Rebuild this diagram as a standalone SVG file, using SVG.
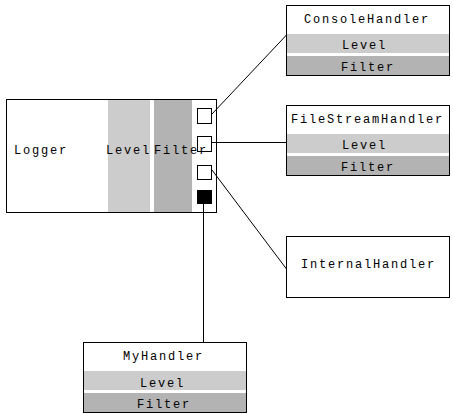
<svg xmlns="http://www.w3.org/2000/svg" width="453" height="414" viewBox="0 0 453 414">
<style>
.box{fill:none;stroke:#000;stroke-width:1}
.bg{fill:#fff}
.lv{fill:#cccccc}
.ft{fill:#b3b3b3}
.sq{fill:#fff;stroke:#000;stroke-width:1}
.t{font-family:"Liberation Mono","Courier New",monospace;font-size:12px;letter-spacing:1.8px;fill:#000}
.c{stroke:#000;stroke-width:1;fill:none}
</style>
<rect width="453" height="414" fill="#fff"/>
<g id="logger">
<rect class="bg" x="6.5" y="99.5" width="210" height="113"/>
<rect class="lv" x="108" y="100" width="42" height="112"/>
<rect class="ft" x="154" y="100" width="38" height="112"/>
<rect class="box" x="6.5" y="99.5" width="210" height="113"/>
<rect class="sq" x="197.5" y="108.5" width="14" height="15"/>
<rect class="sq" x="197.5" y="136.5" width="14" height="15"/>
<rect class="sq" x="197.5" y="165.5" width="14" height="14"/>
<rect x="197" y="190" width="15" height="14" fill="#000"/>
<text class="t" x="14" y="154">Logger</text>
<text class="t" x="106" y="154">Level</text>
<text class="t" x="154" y="154">Filter</text>
</g>
<g id="consoleHandler">
<rect class="bg" x="286.5" y="5.5" width="163" height="70"/>
<rect class="lv" x="287" y="34" width="162" height="19"/>
<rect class="ft" x="287" y="56" width="162" height="19"/>
<rect class="box" x="286.5" y="5.5" width="163" height="70"/>
<text class="t" x="304" y="23">ConsoleHandler</text>
<text class="t" x="342" y="49">Level</text>
<text class="t" x="341" y="71">Filter</text>
</g>
<g id="fileStreamHandler">
<rect class="bg" x="286.5" y="105.5" width="163" height="70"/>
<rect class="lv" x="287" y="134" width="162" height="19"/>
<rect class="ft" x="287" y="156" width="162" height="19"/>
<rect class="box" x="286.5" y="105.5" width="163" height="70"/>
<text class="t" x="291" y="123">FileStreamHandler</text>
<text class="t" x="342" y="149">Level</text>
<text class="t" x="341" y="171">Filter</text>
</g>
<g id="internalHandler">
<rect class="bg" x="286.5" y="236.5" width="163" height="61"/>
<rect class="box" x="286.5" y="236.5" width="163" height="61"/>
<text class="t" x="301" y="268">InternalHandler</text>
</g>
<g id="myHandler">
<rect class="bg" x="83.5" y="342.5" width="163" height="70"/>
<rect class="lv" x="84" y="371" width="162" height="19"/>
<rect class="ft" x="84" y="393" width="162" height="19"/>
<rect class="box" x="83.5" y="342.5" width="163" height="70"/>
<text class="t" x="123" y="360">MyHandler</text>
<text class="t" x="140" y="387">Level</text>
<text class="t" x="137" y="408">Filter</text>
</g>
<g id="connectors">
<line class="c" x1="212" y1="114" x2="286.5" y2="35"/>
<line class="c" x1="212" y1="142.5" x2="286.5" y2="142.5"/>
<line class="c" x1="212" y1="170" x2="286.5" y2="269"/>
<line class="c" x1="203.5" y1="204" x2="203.5" y2="342.5"/>
</g>
</svg>
